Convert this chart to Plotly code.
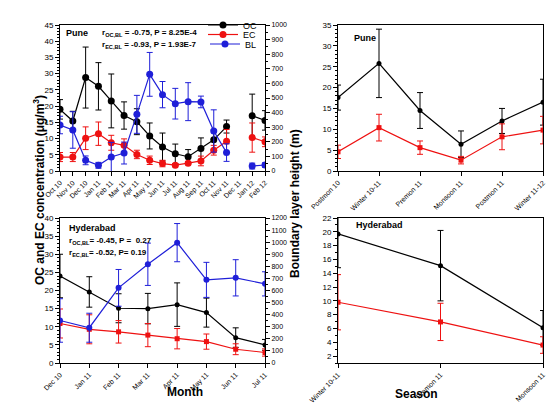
import plotly.graph_objects as go

W, H = 560, 414

# ---- data: Pune monthly (panel a) ----
pune_months = ['Oct 10', 'Nov 10', 'Dec 10', 'Jan 11', 'Feb 11', 'Mar 11', 'Apr 11', 'May 11', 'Jun 11',
               'Jul 11', 'Aug 11', 'Sep 11', 'Oct 11', 'Nov 11', 'Dec 11', 'Jan 12', 'Feb 12']
pune_oc = [19.0, 15.4, 28.8, 26.1, 21.6, 17.1, 15.2, 10.8, 7.4, 5.3, 4.4, 6.9, 9.6, 13.7, None, 17.0, 15.6]
pune_oc_err = [3.0, 3.0, 9.4, 7.3, 8.3, 4.2, 4.0, 4.0, 4.3, 3.0, 2.2, 3.3, 3.0, 2.0, None, 6.7, 3.0]
pune_ec = [4.3, 4.3, 10.1, 11.5, 8.7, 7.9, 5.1, 3.3, 2.3, 1.8, 2.4, 3.1, 6.4, 9.2, None, 10.3, 9.0]
pune_ec_err = [1.4, 1.4, 3.5, 3.6, 2.3, 2.0, 1.3, 1.3, 1.0, 0.5, 0.5, 1.5, 1.5, 3.6, None, 4.5, 1.5]
pune_bl = [315, 281, 73, 39, 96, 123, 388, 662, 523, 461, 475, 473, 274, 126, None, 34, 41]
pune_bl_err = [60, 125, 30, 20, 100, 75, 130, 150, 90, 105, 130, 40, 145, 60, None, 20, 15]

# ---- data: Hyderabad monthly (panel c) ----
hyd_months = ['Dec 10', 'Jan 11', 'Feb 11', 'Mar 11', 'Apr 11', 'May 11', 'Jun 11', 'Jul 11']
hyd_oc = [24.0, 19.6, 15.1, 15.0, 16.1, 13.9, 7.0, 5.0]
hyd_oc_err = [6.0, 4.2, 4.0, 4.2, 6.0, 4.0, 2.7, 1.5]
hyd_ec = [10.9, 9.3, 8.6, 7.7, 6.7, 5.9, 3.8, 2.9]
hyd_ec_err = [4.0, 4.0, 3.1, 3.2, 2.8, 2.1, 1.5, 1.0]
hyd_bl = [352, 292, 622, 817, 996, 688, 705, 655]
hyd_bl_err = [180, 120, 152, 175, 158, 145, 150, 100]

# ---- data: seasonal (panels b, d) ----
pune_seasons = ['Postmon 10', 'Winter 10-11', 'Premon 11', 'Monsoon 11', 'Postmon 11', 'Winter 11-12']
pune_s_oc = [17.6, 25.8, 14.5, 6.4, 12.0, 16.5]
pune_s_oc_err = [3.0, 8.2, 4.3, 3.2, 3.0, 5.5]
pune_s_ec = [4.6, 10.4, 5.6, 2.6, 8.2, 9.8]
pune_s_ec_err = [1.6, 3.2, 1.6, 0.9, 3.1, 3.3]

hyd_seasons = ['Winter 10-11', 'Premon 11', 'Monsoon 11']
hyd_s_oc = [19.7, 15.1, 6.1]
hyd_s_oc_err = [4.9, 5.1, 2.5]
hyd_s_ec = [9.8, 6.95, 3.6]
hyd_s_ec_err = [4.0, 2.7, 1.2]

BLACK = 'black'
RED = '#ee1111'
BLUE = '#1f1fd8'


def px(x):
    return x / W


def py(y):
    return 1 - y / H


def series(x, y, err, color, name, xa, ya, symbol='circle', size=5, legend=None):
    tr = go.Scatter(
        x=x, y=y, name=name, mode='lines+markers', xaxis=xa, yaxis=ya,
        line=dict(color=color, width=1.2),
        marker=dict(color=color, size=size, symbol=symbol),
        error_y=dict(type='data', array=err, color=color, thickness=1, width=3),
        connectgaps=False, showlegend=legend is not None,
    )
    if legend:
        tr.legend = legend
    return tr


fig = go.Figure()
# panel a: Pune monthly (each entry in its own legend box to keep them tight)
fig.add_trace(series(pune_months, pune_oc, pune_oc_err, BLACK, 'OC', 'x', 'y', size=7, legend='legend'))
fig.add_trace(series(pune_months, pune_ec, pune_ec_err, RED, 'EC', 'x', 'y', size=7, legend='legend2'))
fig.add_trace(series(pune_months, pune_bl, pune_bl_err, BLUE, 'BL', 'x', 'y2', size=7, legend='legend3'))
# panel c: Hyderabad monthly
fig.add_trace(series(hyd_months, hyd_oc, hyd_oc_err, BLACK, 'OC', 'x2', 'y3'))
fig.add_trace(series(hyd_months, hyd_ec, hyd_ec_err, RED, 'EC', 'x2', 'y3', symbol='square'))
fig.add_trace(series(hyd_months, hyd_bl, hyd_bl_err, BLUE, 'BL', 'x2', 'y4', size=6))
# panel b: Pune seasonal
fig.add_trace(series(pune_seasons, pune_s_oc, pune_s_oc_err, BLACK, 'OC', 'x3', 'y5'))
fig.add_trace(series(pune_seasons, pune_s_ec, pune_s_ec_err, RED, 'EC', 'x3', 'y5', symbol='square'))
# panel d: Hyderabad seasonal
fig.add_trace(series(hyd_seasons, hyd_s_oc, hyd_s_oc_err, BLACK, 'OC', 'x4', 'y6'))
fig.add_trace(series(hyd_seasons, hyd_s_ec, hyd_s_ec_err, RED, 'EC', 'x4', 'y6', symbol='square'))

base = dict(showline=True, linecolor='black', linewidth=1, ticks='outside', ticklen=4, automargin=False,
            tickcolor='black', tickfont=dict(family='Arial', size=8, color='black'),
            showgrid=False, zeroline=False)


def xax(cats, domain, anchor):
    return dict(base, type='category', categoryorder='array', categoryarray=cats,
                range=[0, len(cats) - 1], domain=domain, anchor=anchor, tickangle=-45, mirror=True,
                tickfont=dict(family='Arial', size=7, color='black'))


def yax(rng, dtick, domain, anchor, minor, tick0=0):
    return dict(base, range=rng, dtick=dtick, tick0=tick0, domain=domain, anchor=anchor, mirror=True,
                minor=dict(ticks='outside', ticklen=2, dtick=minor, tickcolor='black'))


def yright(rng, dtick, over, anchor):
    return dict(base, range=rng, dtick=dtick, overlaying=over, side='right', anchor=anchor,
                tickfont=dict(family='Arial', size=7, color='black'),
                minor=dict(ticks='outside', ticklen=2, dtick=dtick / 2, tickcolor='black'))


top = [py(163), py(17)]
bottom = [py(355), py(210)]
left = [px(52), px(257)]
right = [px(330), px(535)]

leg = dict(xanchor='right', yanchor='middle', bgcolor='rgba(0,0,0,0)', borderwidth=0,
           font=dict(family='Arial', size=9, color='black'), itemwidth=30)

fig.update_layout(
    width=W, height=H,
    margin=dict(l=0, r=0, t=0, b=0),
    paper_bgcolor='white', plot_bgcolor='white',
    font=dict(family='Arial', color='black'),
    xaxis=xax(pune_months, left, 'y'),
    yaxis=yax([0, 45], 5, top, 'x', 1),
    yaxis2=yright([0, 1000], 100, 'y', 'x'),
    xaxis2=xax(hyd_months, left, 'y3'),
    yaxis3=yax([0, 40], 5, bottom, 'x2', 1),
    yaxis4=yright([0, 1200], 100, 'y3', 'x2'),
    xaxis3=xax(pune_seasons, right, 'y5'),
    yaxis5=yax([0, 35], 5, top, 'x3', 1),
    xaxis4=xax(hyd_seasons, right, 'y6'),
    yaxis6=yax([1, 22], 2, bottom, 'x4', 1, tick0=2),
    legend=dict(leg, x=px(254), y=py(17)),
    legend2=dict(leg, x=px(254), y=py(26.5)),
    legend3=dict(leg, x=px(254), y=py(36)),
)

label = dict(family='Arial', size=9, color='black')
small = dict(family='Arial', size=8, color='black')
notes = [
    (56, 25, '<b>Pune</b>', label),
    (92, 25, '<b>r<sub>OC,BL</sub> = -0.75, P = 8.25E-4</b>', small),
    (92, 37, '<b>r<sub>EC,BL</sub> = -0.93, P = 1.93E-7</b>', small),
    (59, 220, '<b>Hyderabad</b>', label),
    (59, 233, '<b>r<sub>OC,BL</sub>= -0.45, P =  0.27</b>', small),
    (59, 245, '<b>r<sub>EC,BL</sub>= -0.52, P= 0.19</b>', small),
    (344, 30, '<b>Pune</b>', label),
    (346, 217, '<b>Hyderabad</b>', label),
]
for x, y, t, f in notes:
    fig.add_annotation(x=px(x), y=py(y), xref='paper', yref='paper', text=t, showarrow=False,
                       xanchor='left', yanchor='middle', font=f)

title_font = dict(family='Arial', size=12, color='black')
fig.add_annotation(x=px(21), y=py(182), xref='paper', yref='paper', text='<b>OC and EC concentration (μg/m<sup>3</sup>)</b>',
                   textangle=-90, showarrow=False, font=title_font)
fig.add_annotation(x=px(287), y=py(196), xref='paper', yref='paper', text='<b>Boundary layer height (m)</b>',
                   textangle=-90, showarrow=False, font=title_font)
fig.add_annotation(x=px(157), y=py(393), xref='paper', yref='paper', text='<b>Month</b>',
                   showarrow=False, font=title_font)
fig.add_annotation(x=px(432), y=py(395), xref='paper', yref='paper', text='<b>Season</b>',
                   showarrow=False, font=title_font)

fig.write_html('out.html')
